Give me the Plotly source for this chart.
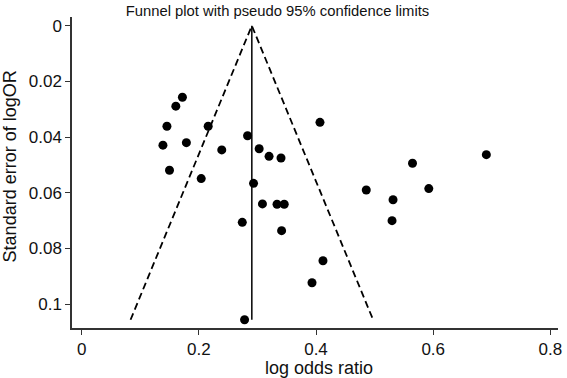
import plotly.graph_objects as go

# Study estimates (log odds ratio) and their standard errors
log_or = [0.1720, 0.1608, 0.1456, 0.2160, 0.1388, 0.1788, 0.2392, 0.1500, 0.2041,
          0.2832, 0.3030, 0.3199, 0.3403, 0.2934, 0.3086, 0.3335, 0.3458, 0.2742,
          0.3413, 0.4068, 0.6907, 0.5647, 0.4858, 0.5925, 0.5315, 0.5298, 0.4119,
          0.3932, 0.2781]
se = [0.0257, 0.0289, 0.0361, 0.0361, 0.0429, 0.0420, 0.0446, 0.0519, 0.0549,
      0.0395, 0.0442, 0.0469, 0.0475, 0.0566, 0.0640, 0.0641, 0.0641, 0.0706,
      0.0736, 0.0347, 0.0463, 0.0494, 0.0590, 0.0585, 0.0625, 0.0700, 0.0844,
      0.0923, 0.1056]
pooled = 0.2905
z95 = 1.96

x_ticks = [0, 0.2, 0.4, 0.6, 0.8]
x_tick_text = ["0", "0.2", "0.4", "0.6", "0.8"]
y_ticks = [0, 0.02, 0.04, 0.06, 0.08, 0.1]
y_tick_text = ["0", "0.02", "0.04", "0.06", "0.08", "0.1"]

se_max = max(se)
font_family = "Arial, Liberation Sans, sans-serif"

fig = go.Figure()
# pseudo 95% confidence limits
fig.add_trace(go.Scatter(
    x=[pooled - z95 * se_max, pooled, pooled + z95 * se_max],
    y=[se_max, 0, se_max],
    mode="lines", line=dict(color="black", width=1.8, dash="7px,4px"),
    hoverinfo="skip", showlegend=False))
# pooled estimate line
fig.add_trace(go.Scatter(
    x=[pooled, pooled], y=[0, se_max], mode="lines",
    line=dict(color="black", width=1.5), hoverinfo="skip", showlegend=False))
# studies
fig.add_trace(go.Scatter(
    x=log_or, y=se, mode="markers",
    marker=dict(color="black", size=9), showlegend=False))

axis_common = dict(showgrid=False, zeroline=False, showline=True,
                   linecolor="#333333", linewidth=1.5, ticks="outside",
                   ticklen=5, tickwidth=1.2, tickcolor="#333333",
                   tickfont=dict(family=font_family, size=17, color="#111111"))

fig.update_layout(
    width=567, height=378,
    margin=dict(l=72, r=5, t=17, b=50),
    paper_bgcolor="white", plot_bgcolor="white",
    title=dict(text="Funnel plot with pseudo 95% confidence limits",
               xref="container", yref="container", x=0.4894, y=0.971,
               xanchor="center", yanchor="middle",
               font=dict(family=font_family, size=14.8, color="#111111")),
    xaxis=dict(range=[-0.0164, 0.8130], tickvals=x_ticks, ticktext=x_tick_text,
               **axis_common),
    yaxis=dict(range=[0.10855, -0.00312], tickvals=y_ticks, ticktext=y_tick_text,
               **axis_common),
    annotations=[
        dict(text="log odds ratio", xref="paper", yref="paper",
             x=0.5078, y=-0.1244, yshift=-1, xanchor="center", yanchor="middle",
             showarrow=False, font=dict(family=font_family, size=18, color="#111111")),
        dict(text="Standard error of logOR", xref="paper", yref="paper",
             x=0, xshift=-62.5, y=0.518, xanchor="center", yanchor="middle",
             textangle=-90, showarrow=False,
             font=dict(family=font_family, size=18, color="#111111")),
    ],
)

fig.write_html("out.html",
               config={"displayModeBar": False},
               post_script="document.body.style.margin='0';document.body.style.overflow='hidden';")
